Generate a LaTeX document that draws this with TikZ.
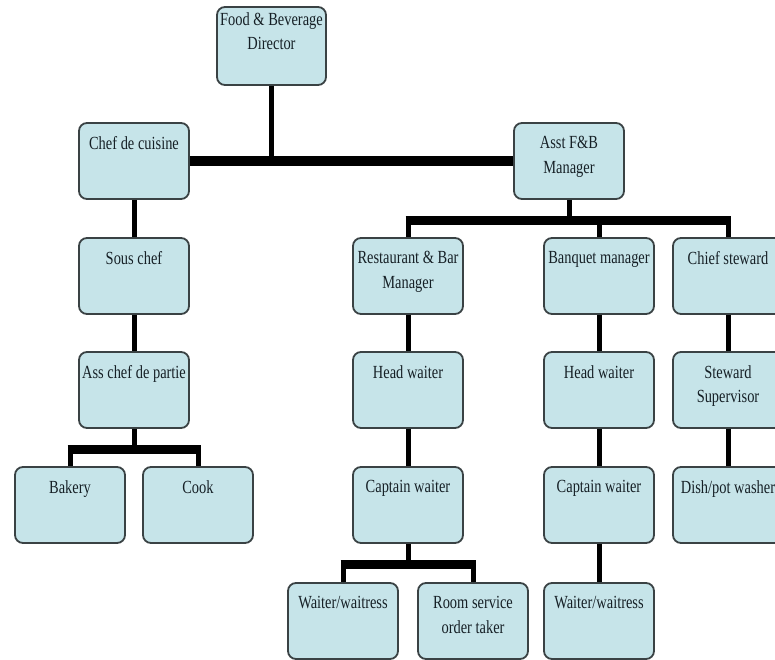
\documentclass[tikz,border=0pt]{standalone}
\usepackage{fontspec}
\setmainfont{Liberation Serif}[FakeStretch=0.78]
\usetikzlibrary{calc}
\definecolor{boxfill}{RGB}{198,228,233}
\definecolor{boxborder}{RGB}{58,66,68}
\definecolor{textcol}{RGB}{22,32,38}
\tikzset{
  orgbox/.style={draw=boxborder, fill=boxfill, rounded corners=8pt, line width=1.8pt,
    minimum width=110pt, minimum height=76pt, inner sep=0pt},
  lbl/.style={anchor=north, align=center, text=textcol, inner sep=0pt,
    font=\fontsize{18.5}{24.5}\selectfont},
  vline/.style={line width=5pt, black},
  hbar/.style={line width=9pt, black, shorten <=-2.5pt, shorten >=-2.5pt}
}
\newcommand{\orgnode}[5][-14pt]{%
  \node[orgbox] (#2) at (#3) {};
  \node[lbl] (#2-t) at ([yshift=#1]#2.north) {#5};}
\begin{document}
\begin{tikzpicture}[x=1pt,y=-1pt]
\useasboundingbox (0,0) rectangle (775,660);
\clip (0,0) rectangle (775,660);
% top
\node[orgbox, minimum width=109pt, minimum height=78pt] (fbd) at (271.5,46) {};
\node[lbl] (fbd-t) at ([yshift=-6pt]fbd.north) {Food \& Beverage\\Director};
% row 1
\orgnode{chef}{134,161}{}{Chef de cuisine}
\orgnode{asst}{569,161}{}{Asst F\&B\\Manager}
% row 2
\orgnode{sous}{134,276}{}{Sous chef}
\orgnode{rest}{408,276}{}{Restaurant \& Bar\\Manager}
\orgnode{banq}{599,276}{}{Banquet manager}
\orgnode{stew}{728,276}{}{Chief steward}
% row 3
\orgnode{asschef}{134,390}{}{Ass chef de partie}
\orgnode{head1}{408,390}{}{Head waiter}
\orgnode{head2}{599,390}{}{Head waiter}
\orgnode{sup}{728,390}{}{Steward\\Supervisor}
% row 4
\orgnode{bakery}{70,505}{}{Bakery}
\orgnode{cook}{198,505}{}{Cook}
\orgnode{capt1}{408,505}{}{Captain waiter}
\orgnode{capt2}{599,505}{}{Captain waiter}
\orgnode{dish}{728,505}{}{Dish/pot washer}
% row 5
\orgnode{waiter1}{343,621}{}{Waiter/waitress}
\orgnode{room}{473,621}{}{Room service\\order taker}
\orgnode{waiter2}{599,621}{}{Waiter/waitress}
% junction coordinates
\coordinate (jtop) at (271.5,161);
\coordinate (jasst) at (569,220);
\coordinate (jchef) at (134,449);
\coordinate (jcapt) at (408,564);
% connectors
\draw[hbar, line width=10pt, shorten <=0pt, shorten >=0pt] (chef.east) -- (asst.west);
\draw[vline] (fbd.south) -- (jtop);
\draw[vline] (chef.south) -- (sous.north);
\draw[vline] (sous.south) -- (asschef.north);
\draw[vline] (asschef.south) -- (jchef);
\draw[hbar] (bakery.north |- jchef) -- (cook.north |- jchef);
\draw[vline] (bakery.north |- jchef) -- (bakery.north);
\draw[vline] (cook.north |- jchef) -- (cook.north);
\draw[vline] (asst.south) -- (jasst);
\draw[hbar] (rest.north |- jasst) -- (stew.north |- jasst);
\draw[vline] (rest.north |- jasst) -- (rest.north);
\draw[vline] (banq.north |- jasst) -- (banq.north);
\draw[vline] (stew.north |- jasst) -- (stew.north);
\draw[vline] (rest.south) -- (head1.north);
\draw[vline] (head1.south) -- (capt1.north);
\draw[vline] (capt1.south) -- (jcapt);
\draw[hbar] (waiter1.north |- jcapt) -- (room.north |- jcapt);
\draw[vline] (waiter1.north |- jcapt) -- (waiter1.north);
\draw[vline] (room.north |- jcapt) -- (room.north);
\draw[vline] (banq.south) -- (head2.north);
\draw[vline] (head2.south) -- (capt2.north);
\draw[vline] (capt2.south) -- (waiter2.north);
\draw[vline] (stew.south) -- (sup.north);
\draw[vline] (sup.south) -- (dish.north);
\end{tikzpicture}
\end{document}
